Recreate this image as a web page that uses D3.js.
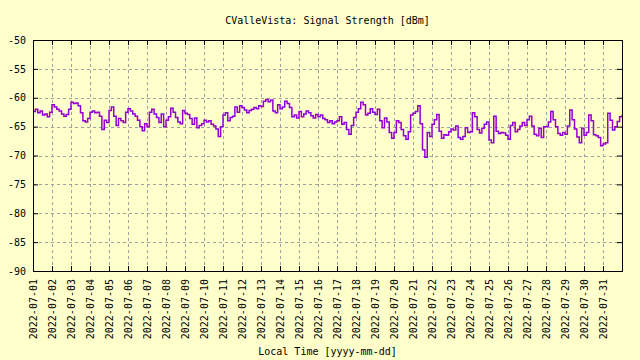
<!DOCTYPE html>
<html>
<head>
<meta charset="utf-8">
<script src="https://cdn.jsdelivr.net/npm/d3@7"></script>
<style>
  html, body { margin: 0; padding: 0; background: #ffffcc; }
  svg { display: block; }
  text { font-family: "DejaVu Sans Mono", monospace; font-size: 10px; fill: #000; }
</style>
</head>
<body>
<svg id="chart" width="640" height="360"></svg>
<script>
// ---- data ----
const chartTitle = "CValleVista: Signal Strength [dBm]";
const xAxisTitle = "Local Time [yyyy-mm-dd]";
const seriesStart = "2022-07-01T00:00:00Z";
const seriesStepHours = 3;
const signalValues = [
  -62.4, -62.0, -62.6, -62.3, -63.0, -62.8, -63.3, -62.5,
  -61.2, -61.6, -62.0, -62.3, -62.8, -63.2, -62.9, -62.0,
  -60.8, -61.0, -60.9, -61.4, -62.6, -64.0, -64.2, -63.6,
  -62.5, -62.3, -62.6, -62.5, -63.2, -65.5, -63.9, -64.3,
  -62.2, -61.6, -63.2, -64.8, -63.6, -64.0, -64.3, -62.5,
  -61.9, -62.3, -62.8, -63.2, -63.9, -65.0, -65.7, -64.5,
  -65.0, -62.5, -62.0, -62.8, -63.4, -64.3, -62.8, -65.0,
  -63.9, -63.3, -61.8, -62.5, -63.4, -64.2, -64.5, -62.2,
  -62.7, -62.9, -63.6, -64.6, -63.5, -65.2, -64.8, -64.5,
  -63.9, -64.2, -64.0, -64.6, -64.9, -65.4, -66.7, -65.0,
  -63.0, -62.6, -64.0, -63.4, -63.2, -61.6, -62.5, -61.4,
  -61.7, -62.1, -62.6, -62.2, -62.0, -61.7, -61.9, -61.4,
  -61.5, -60.6, -60.3, -60.7, -60.4, -62.3, -62.6, -61.2,
  -61.9, -61.6, -60.6, -61.0, -61.7, -63.3, -63.0, -63.5,
  -62.4, -63.3, -62.8, -62.3, -62.6, -63.1, -63.5, -62.9,
  -63.3, -63.0, -63.6, -63.8, -64.3, -64.0, -64.5, -64.2,
  -64.0, -63.3, -64.6, -64.3, -65.5, -66.3, -64.8, -63.4,
  -62.5, -61.9, -60.8, -61.2, -63.0, -62.7, -61.9, -62.5,
  -62.9, -62.0, -64.0, -65.2, -63.5, -64.2, -66.0, -67.0,
  -66.0, -64.0, -64.3, -65.5, -66.6, -67.2, -65.9, -63.0,
  -62.7, -62.4, -61.4, -64.5, -69.0, -70.3, -66.0, -66.7,
  -64.6, -63.8, -62.9, -65.8, -67.0, -66.4, -66.5, -65.9,
  -65.4, -65.6, -64.9, -66.9, -67.2, -66.7, -65.2, -66.0,
  -65.9, -62.6, -63.3, -65.5, -66.1, -65.3, -64.6, -64.2,
  -67.3, -67.8, -63.2, -65.8, -66.2, -66.0, -66.1, -66.5,
  -67.2, -64.8, -64.3, -65.9, -65.5, -64.9, -64.3, -64.8,
  -63.8, -63.2, -64.9, -66.3, -66.6, -65.3, -66.9, -65.0,
  -65.0, -64.2, -62.4, -63.8, -65.0, -66.2, -66.5, -66.0,
  -66.3, -64.9, -62.1, -63.8, -65.4, -66.8, -67.8, -65.3,
  -66.5, -66.0, -63.0, -64.0, -66.4, -66.6, -66.9, -68.3,
  -68.0, -67.8, -62.7, -63.9, -65.6, -65.0, -64.1, -63.3,
  -63.0
];
const xDomain = ["2022-07-01T00:00:00Z", "2022-08-01T00:00:00Z"];
const xTickLabels = [
  "2022-07-01","2022-07-02","2022-07-03","2022-07-04","2022-07-05","2022-07-06",
  "2022-07-07","2022-07-08","2022-07-09","2022-07-10","2022-07-11","2022-07-12",
  "2022-07-13","2022-07-14","2022-07-15","2022-07-16","2022-07-17","2022-07-18",
  "2022-07-19","2022-07-20","2022-07-21","2022-07-22","2022-07-23","2022-07-24",
  "2022-07-25","2022-07-26","2022-07-27","2022-07-28","2022-07-29","2022-07-30",
  "2022-07-31"
];
const yDomain = [-90, -50];
const yTicks = [-90, -85, -80, -75, -70, -65, -60, -55, -50];

// ---- layout ----
const svg = d3.select("#chart");
const W = 640, H = 360;
const L = 33, R = 622, T = 40, B = 271;
const tickLen = 5;

svg.append("rect").attr("width", W).attr("height", H).attr("fill", "#ffffcc");

const t0 = new Date(seriesStart).getTime();
const data = signalValues.map((v, i) => ({ t: new Date(t0 + i * seriesStepHours * 3600e3), v }));
const xTicks = xTickLabels.map(s => new Date(s + "T00:00:00Z"));

const x = d3.scaleUtc().domain(xDomain.map(s => new Date(s))).range([L, R]);
const y = d3.scaleLinear().domain(yDomain).range([B, T]);

// grid
const grid = svg.append("g").attr("stroke", "#a0a0a0").attr("stroke-width", 1)
  .attr("stroke-dasharray", "3,3").attr("fill", "none");
grid.selectAll("line.v").data(xTicks.filter(d => x(d) > L + 1 && x(d) < R - 1)).join("line")
  .attr("class", "v")
  .attr("x1", d => Math.round(x(d)) + 0.5).attr("x2", d => Math.round(x(d)) + 0.5)
  .attr("y1", B).attr("y2", T);
grid.selectAll("line.h").data(yTicks.filter(d => d > yDomain[0] && d < yDomain[1])).join("line")
  .attr("class", "h")
  .attr("y1", d => Math.round(y(d)) + 0.5).attr("y2", d => Math.round(y(d)) + 0.5)
  .attr("x1", L).attr("x2", R);

// axes (ticks inward, mirrored)
const fmt = d3.utcFormat("%Y-%m-%d");
const gx = svg.append("g").attr("transform", `translate(0,${B})`)
  .call(d3.axisBottom(x).tickValues(xTicks).tickFormat(fmt).tickSize(-tickLen).tickPadding(0));
gx.select(".domain").remove();
gx.selectAll(".tick line").attr("stroke", "#000");
gx.selectAll(".tick text")
  .attr("transform", "translate(0,8) rotate(-90)")
  .attr("text-anchor", "end").attr("x", 0).attr("y", 0).attr("dy", "0.35em")
  .style("font-family", "DejaVu Sans Mono").style("font-size", "10px");

const gxt = svg.append("g").attr("transform", `translate(0,${T})`)
  .call(d3.axisTop(x).tickValues(xTicks).tickFormat("").tickSize(-tickLen));
gxt.select(".domain").remove();
gxt.selectAll(".tick line").attr("stroke", "#000");

const gy = svg.append("g").attr("transform", `translate(${L},0)`)
  .call(d3.axisLeft(y).tickValues(yTicks).tickFormat(d3.format("d")).tickSize(-tickLen).tickPadding(7));
gy.select(".domain").remove();
gy.selectAll(".tick line").attr("stroke", "#000");
gy.selectAll(".tick text").style("font-family", "DejaVu Sans Mono").style("font-size", "10px")
  .text(d => String(d));

const gyr = svg.append("g").attr("transform", `translate(${R},0)`)
  .call(d3.axisRight(y).tickValues(yTicks).tickFormat("").tickSize(-tickLen));
gyr.select(".domain").remove();
gyr.selectAll(".tick line").attr("stroke", "#000");

// line
const line = d3.line().x(d => x(d.t)).y(d => y(d.v)).curve(d3.curveStepAfter);
svg.append("path").datum(data).attr("d", line)
  .attr("fill", "none").attr("stroke", "#9400d3").attr("stroke-width", 1.5);

// frame
svg.append("rect").attr("x", L + 0.5).attr("y", T + 0.5)
  .attr("width", R - L).attr("height", B - T)
  .attr("fill", "none").attr("stroke", "#000").attr("stroke-width", 1);

// titles
svg.append("text").attr("x", (L + R) / 2).attr("y", 24).attr("text-anchor", "middle").text(chartTitle);
svg.append("text").attr("x", (L + R) / 2).attr("y", 355).attr("text-anchor", "middle").text(xAxisTitle);
</script>
</body>
</html>
